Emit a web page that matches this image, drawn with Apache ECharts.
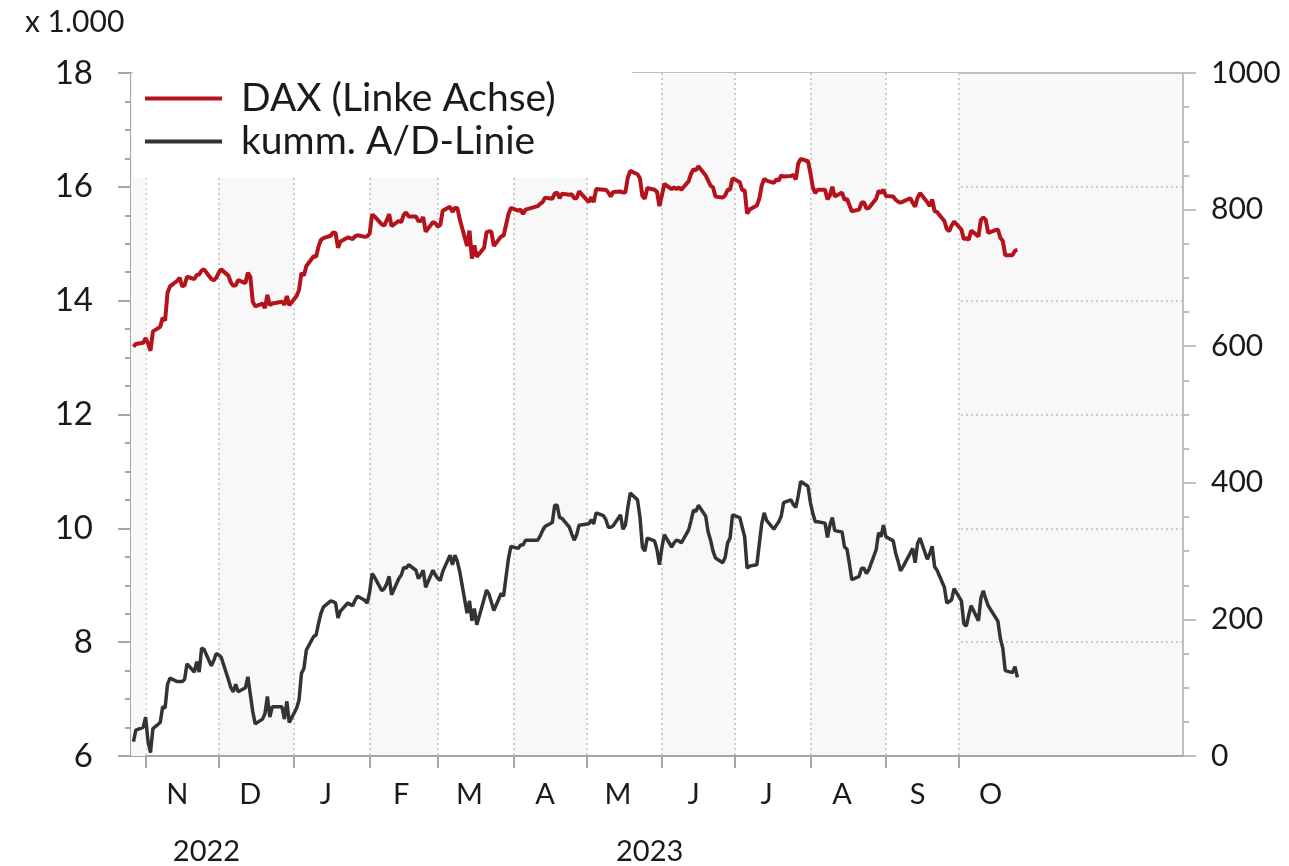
<!DOCTYPE html>
<html>
<head>
<meta charset="utf-8">
<script src="https://cdn.jsdelivr.net/npm/echarts@6/dist/echarts.min.js"></script>
<style>
    html, body { margin: 0; background: #ffffff; }
    #chart { width: 1289px; height: 866px; }
</style>
</head>
<body>
<div id="chart"></div>
<script>
// trading days shown in the chart
var dates = [
    '2022-10-27', '2022-10-28', '2022-10-31', '2022-11-01', '2022-11-02', '2022-11-03', '2022-11-04',
    '2022-11-07', '2022-11-08', '2022-11-09', '2022-11-10', '2022-11-11', '2022-11-14', '2022-11-15',
    '2022-11-16', '2022-11-17', '2022-11-18', '2022-11-21', '2022-11-22', '2022-11-23', '2022-11-24',
    '2022-11-25', '2022-11-28', '2022-11-29', '2022-11-30', '2022-12-01', '2022-12-02', '2022-12-05',
    '2022-12-06', '2022-12-07', '2022-12-08', '2022-12-09', '2022-12-12', '2022-12-13', '2022-12-14',
    '2022-12-15', '2022-12-16', '2022-12-19', '2022-12-20', '2022-12-21', '2022-12-22', '2022-12-23',
    '2022-12-27', '2022-12-28', '2022-12-29', '2022-12-30', '2023-01-02', '2023-01-03', '2023-01-04',
    '2023-01-05', '2023-01-06', '2023-01-09', '2023-01-10', '2023-01-11', '2023-01-12', '2023-01-13',
    '2023-01-16', '2023-01-17', '2023-01-18', '2023-01-19', '2023-01-20', '2023-01-23', '2023-01-24',
    '2023-01-25', '2023-01-26', '2023-01-27', '2023-01-30', '2023-01-31', '2023-02-01', '2023-02-02',
    '2023-02-03', '2023-02-06', '2023-02-07', '2023-02-08', '2023-02-09', '2023-02-10', '2023-02-13',
    '2023-02-14', '2023-02-15', '2023-02-16', '2023-02-17', '2023-02-20', '2023-02-21', '2023-02-22',
    '2023-02-23', '2023-02-24', '2023-02-27', '2023-02-28', '2023-03-01', '2023-03-02', '2023-03-03',
    '2023-03-06', '2023-03-07', '2023-03-08', '2023-03-09', '2023-03-10', '2023-03-13', '2023-03-14',
    '2023-03-15', '2023-03-16', '2023-03-17', '2023-03-20', '2023-03-21', '2023-03-22', '2023-03-23',
    '2023-03-24', '2023-03-27', '2023-03-28', '2023-03-29', '2023-03-30', '2023-03-31', '2023-04-03',
    '2023-04-04', '2023-04-05', '2023-04-06', '2023-04-11', '2023-04-12', '2023-04-13', '2023-04-14',
    '2023-04-17', '2023-04-18', '2023-04-19', '2023-04-20', '2023-04-21', '2023-04-24', '2023-04-25',
    '2023-04-26', '2023-04-27', '2023-04-28', '2023-05-02', '2023-05-03', '2023-05-04', '2023-05-05',
    '2023-05-08', '2023-05-09', '2023-05-10', '2023-05-11', '2023-05-12', '2023-05-15', '2023-05-16',
    '2023-05-17', '2023-05-18', '2023-05-19', '2023-05-22', '2023-05-23', '2023-05-24', '2023-05-25',
    '2023-05-26', '2023-05-29', '2023-05-30', '2023-05-31', '2023-06-01', '2023-06-02', '2023-06-05',
    '2023-06-06', '2023-06-07', '2023-06-08', '2023-06-09', '2023-06-12', '2023-06-13', '2023-06-14',
    '2023-06-15', '2023-06-16', '2023-06-19', '2023-06-20', '2023-06-21', '2023-06-22', '2023-06-23',
    '2023-06-26', '2023-06-27', '2023-06-28', '2023-06-29', '2023-06-30', '2023-07-03', '2023-07-04',
    '2023-07-05', '2023-07-06', '2023-07-07', '2023-07-10', '2023-07-11', '2023-07-12', '2023-07-13',
    '2023-07-14', '2023-07-17', '2023-07-18', '2023-07-19', '2023-07-20', '2023-07-21', '2023-07-24',
    '2023-07-25', '2023-07-26', '2023-07-27', '2023-07-28', '2023-07-31', '2023-08-01', '2023-08-02',
    '2023-08-03', '2023-08-04', '2023-08-07', '2023-08-08', '2023-08-09', '2023-08-10', '2023-08-11',
    '2023-08-14', '2023-08-15', '2023-08-16', '2023-08-17', '2023-08-18', '2023-08-21', '2023-08-22',
    '2023-08-23', '2023-08-24', '2023-08-25', '2023-08-28', '2023-08-29', '2023-08-30', '2023-08-31',
    '2023-09-01', '2023-09-04', '2023-09-05', '2023-09-06', '2023-09-07', '2023-09-08', '2023-09-11',
    '2023-09-12', '2023-09-13', '2023-09-14', '2023-09-15', '2023-09-18', '2023-09-19', '2023-09-20',
    '2023-09-21', '2023-09-22', '2023-09-25', '2023-09-26', '2023-09-27', '2023-09-28', '2023-09-29',
    '2023-10-02', '2023-10-03', '2023-10-04', '2023-10-05', '2023-10-06', '2023-10-09', '2023-10-10',
    '2023-10-11', '2023-10-12', '2023-10-13', '2023-10-16', '2023-10-17', '2023-10-18', '2023-10-19',
    '2023-10-20', '2023-10-23', '2023-10-24', '2023-10-25'
];

// DAX, in thousands (left axis)
var daxValues = [
    13.19, 13.24, 13.26, 13.34, 13.25, 13.12, 13.46,
    13.54, 13.70, 13.65, 14.14, 14.25, 14.35, 14.40,
    14.25, 14.27, 14.42, 14.38, 14.45, 14.46, 14.53,
    14.55, 14.38, 14.36, 14.40, 14.49, 14.55, 14.44,
    14.32, 14.26, 14.27, 14.36, 14.31, 14.49, 14.42,
    13.98, 13.90, 13.95, 13.87, 14.10, 13.92, 13.95,
    13.98, 13.93, 14.08, 13.92, 14.08, 14.19, 14.49,
    14.44, 14.61, 14.78, 14.77, 14.95, 15.07, 15.10,
    15.14, 15.20, 15.19, 14.93, 15.04, 15.11, 15.10,
    15.08, 15.13, 15.15, 15.12, 15.13, 15.18, 15.51,
    15.48, 15.34, 15.32, 15.41, 15.52, 15.31, 15.40,
    15.38, 15.51, 15.55, 15.48, 15.48, 15.40, 15.40,
    15.47, 15.21, 15.38, 15.36, 15.30, 15.33, 15.58,
    15.65, 15.56, 15.63, 15.63, 15.43, 14.96, 15.23,
    14.74, 14.97, 14.77, 14.93, 15.20, 15.22, 15.21,
    14.96, 15.13, 15.14, 15.33, 15.52, 15.63, 15.58,
    15.60, 15.52, 15.60, 15.66, 15.70, 15.73, 15.81,
    15.79, 15.88, 15.90, 15.80, 15.88, 15.86, 15.87,
    15.80, 15.80, 15.92, 15.73, 15.82, 15.73, 15.96,
    15.95, 15.95, 15.90, 15.83, 15.91, 15.92, 15.90,
    15.90, 16.16, 16.28, 16.22, 16.15, 15.84, 15.79,
    15.98, 15.95, 15.91, 15.66, 15.85, 16.05, 15.96,
    15.99, 15.96, 15.99, 15.95, 16.10, 16.23, 16.31,
    16.29, 16.36, 16.20, 16.11, 16.02, 15.99, 15.83,
    15.81, 15.85, 15.95, 15.95, 16.15, 16.08, 15.94,
    15.94, 15.53, 15.60, 15.67, 15.79, 16.02, 16.14,
    16.11, 16.07, 16.13, 16.11, 16.20, 16.18, 16.19,
    16.21, 16.13, 16.41, 16.49, 16.45, 16.24, 15.99,
    15.89, 15.95, 15.95, 15.78, 15.85, 16.00, 15.83,
    15.90, 15.77, 15.79, 15.68, 15.57, 15.60, 15.72,
    15.73, 15.62, 15.63, 15.79, 15.93, 15.89, 15.95,
    15.84, 15.83, 15.77, 15.74, 15.72, 15.74, 15.80,
    15.72, 15.65, 15.81, 15.89, 15.73, 15.66, 15.78,
    15.57, 15.56, 15.40, 15.26, 15.22, 15.32, 15.39,
    15.25, 15.08, 15.10, 15.07, 15.23, 15.13, 15.42,
    15.46, 15.42, 15.19, 15.24, 15.25, 15.10, 15.05,
    14.80, 14.80, 14.88, 14.89
];

// cumulative advance/decline line (right axis)
var adValues = [
    21, 38, 42, 57, 21, 5, 40,
    49, 72, 70, 105, 114, 109, 109,
    109, 112, 135, 123, 138, 123, 158,
    156, 132, 140, 150, 148, 145, 112,
    100, 94, 105, 94, 100, 116, 90,
    65, 47, 54, 62, 87, 57, 72,
    72, 54, 80, 49, 70, 82, 121,
    128, 155, 175, 177, 194, 209, 218,
    227, 226, 224, 202, 212, 224, 222,
    220, 228, 234, 228, 224, 240, 267,
    262, 242, 245, 252, 263, 236, 260,
    265, 276, 275, 280, 272, 260, 265,
    272, 247, 272, 265, 260, 257, 270,
    294, 280, 294, 285, 270, 209, 227,
    198, 216, 192, 230, 243, 237, 225,
    213, 238, 234, 262, 289, 307, 304,
    309, 309, 316, 316, 322, 330, 336,
    342, 367, 367, 349, 348, 335, 325,
    316, 324, 338, 340, 346, 340, 356,
    352, 346, 335, 335, 337, 353, 332,
    338, 363, 385, 375, 350, 306, 300,
    319, 315, 302, 280, 305, 324, 306,
    312, 316, 315, 312, 331, 345, 360,
    358, 367, 351, 328, 316, 300, 290,
    283, 291, 312, 319, 353, 349, 335,
    321, 275, 278, 280, 310, 340, 356,
    345, 332, 338, 343, 351, 371, 375,
    368, 364, 381, 402, 395, 371, 355,
    343, 343, 341, 320, 338, 349, 330,
    328, 306, 303, 282, 258, 263, 275,
    275, 267, 273, 302, 327, 321, 338,
    321, 315, 297, 285, 271, 277, 297,
    304, 283, 311, 319, 288, 296, 307,
    277, 272, 247, 224, 226, 229, 245,
    227, 194, 190, 206, 220, 198, 231,
    242, 230, 220, 203, 197, 172, 158,
    125, 122, 131, 115
];

// month ticks and labels
var monthStarts = [
    '2022-11-01', '2022-12-01', '2023-01-01', '2023-02-01', '2023-03-01', '2023-04-01',
    '2023-05-01', '2023-06-01', '2023-07-01', '2023-08-01', '2023-09-01', '2023-10-01'
];
var monthLabelDates = [
    '2022-11-14', '2022-12-14', '2023-01-14', '2023-02-14', '2023-03-14', '2023-04-14',
    '2023-05-14', '2023-06-14', '2023-07-14', '2023-08-14', '2023-09-14', '2023-10-14'
];
var monthLabels = ['N', 'D', 'J', 'F', 'M', 'A', 'M', 'J', 'J', 'A', 'S', 'O'];
var yearLabelDates = ['2022-11-26', '2023-05-27'];
var yearLabels = ['2022', '2023'];

var axisStart = '2022-10-26';
var axisEnd = '2024-01-01';

var toTime = function (s) {
    return Date.UTC(+s.slice(0, 4), +s.slice(5, 7) - 1, +s.slice(8, 10));
};

var labelLookup = function (labelDates, labels) {
    var map = {};
    labelDates.forEach(function (d, i) {
        map[toTime(d)] = labels[i];
    });
    return function (value) {
        return map[value] || '';
    };
};

var fontFamily = 'Lato';
var textColor = '#1a1a1a';
var axisGray = '#a6a6a6';
var bandGray = '#f8f8f8';
var gridDots = { color: '#cccccc', width: 2, type: [2, 3] };

var element = document.getElementById('chart');
var myChart = echarts.init(element);

var option = {
    animation: false,
    textStyle: { fontFamily: fontFamily },
    grid: {
        left: 131,
        right: 106,
        top: 73,
        bottom: 110,
        show: true,
        backgroundColor: bandGray,
        borderColor: '#bfbfbf',
        borderWidth: 2
    },
    legend: {
        orient: 'vertical',
        left: 145,
        top: 79,
        padding: 0,
        itemWidth: 77,
        itemHeight: 4,
        itemGap: 4,
        icon: 'rect',
        textStyle: {
            fontSize: 39,
            lineHeight: 38,
            color: textColor,
            fontFamily: fontFamily,
            padding: [0, 0, 0, 14]
        },
        data: ['DAX (Linke Achse)', 'kumm. A/D-Linie']
    },
    graphic: [
        {
            type: 'rect',
            left: 133,
            top: 71,
            z: 3,
            shape: { width: 499, height: 107 },
            style: { fill: '#ffffff' }
        },
        {
            type: 'text',
            left: 25,
            top: 7,
            style: { text: 'x 1.000', fontSize: 30, fontFamily: fontFamily, fill: textColor }
        }
    ],
    xAxis: [
        {
            type: 'value',
            min: toTime(axisStart),
            max: toTime(axisEnd),
            axisLine: { lineStyle: { color: axisGray, width: 2 } },
            axisTick: {
                customValues: monthStarts.map(toTime),
                length: 12,
                lineStyle: { color: axisGray, width: 2 }
            },
            axisLabel: {
                customValues: monthLabelDates.map(toTime),
                formatter: labelLookup(monthLabelDates, monthLabels),
                margin: 24,
                fontSize: 29,
                color: textColor,
                fontFamily: fontFamily
            },
            splitLine: { show: true, lineStyle: gridDots },
            splitArea: { show: true, areaStyle: { color: ['#ffffff', bandGray] } }
        },
        {
            type: 'value',
            min: toTime(axisStart),
            max: toTime(axisEnd),
            position: 'bottom',
            offset: 57,
            axisLine: { show: false },
            axisTick: { show: false },
            axisLabel: {
                customValues: yearLabelDates.map(toTime),
                formatter: labelLookup(yearLabelDates, yearLabels),
                margin: 24,
                fontSize: 29,
                color: textColor,
                fontFamily: fontFamily
            },
            splitLine: { show: false },
            splitArea: { show: false }
        }
    ],
    yAxis: [
        {
            type: 'value',
            min: 6,
            max: 18,
            interval: 2,
            axisLine: { show: true, lineStyle: { color: axisGray, width: 2 } },
            axisTick: { show: true, length: 13, lineStyle: { color: axisGray, width: 2 } },
            minorTick: { show: true, splitNumber: 4, length: 6, lineStyle: { color: axisGray, width: 2 } },
            axisLabel: { margin: 38, fontSize: 33, color: textColor, fontFamily: fontFamily },
            splitLine: { show: true, showMinLine: false, showMaxLine: false, lineStyle: gridDots }
        },
        {
            type: 'value',
            min: 0,
            max: 1000,
            interval: 200,
            position: 'right',
            axisLine: { show: true, lineStyle: { color: '#bfbfbf', width: 2 } },
            axisTick: { show: true, length: 13, lineStyle: { color: '#bfbfbf', width: 2 } },
            minorTick: { show: true, splitNumber: 4, length: 6, lineStyle: { color: '#bfbfbf', width: 2 } },
            axisLabel: {
                margin: 28,
                fontSize: 30,
                color: textColor,
                fontFamily: fontFamily,
                formatter: function (value) {
                    return String(value);
                }
            },
            splitLine: { show: false }
        }
    ],
    series: [
        {
            name: 'DAX (Linke Achse)',
            type: 'line',
            yAxisIndex: 0,
            showSymbol: false,
            color: '#b5121b',
            lineStyle: { width: 4, color: '#b5121b' },
            data: dates.map(function (d, i) {
                return [toTime(d), daxValues[i]];
            }),
            // shading of the days before the first month tick
            markArea: {
                silent: true,
                itemStyle: { color: bandGray },
                data: [[{ xAxis: toTime(axisStart) }, { xAxis: toTime(monthStarts[0]) }]]
            }
        },
        {
            name: 'kumm. A/D-Linie',
            type: 'line',
            yAxisIndex: 1,
            showSymbol: false,
            color: '#333333',
            lineStyle: { width: 3.5, color: '#333333' },
            data: dates.map(function (d, i) {
                return [toTime(d), adValues[i]];
            })
        }
    ]
};

myChart.setOption(option);
</script>
</body>
</html>
